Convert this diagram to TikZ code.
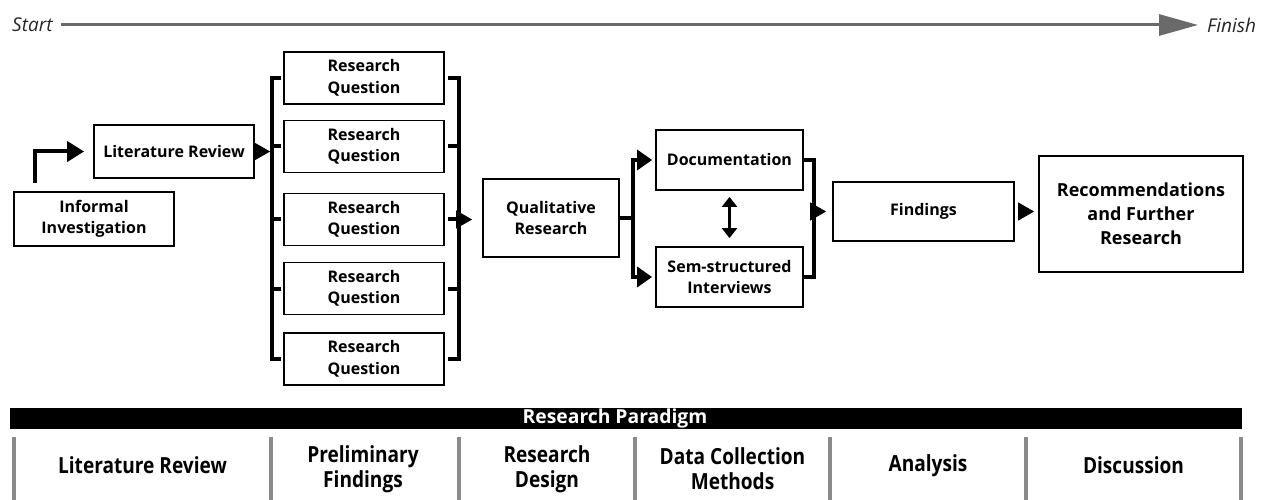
\documentclass[tikz,border=0pt]{standalone}
\usepackage{fontspec}
\setmainfont{Open Sans}
\newfontfamily\phasefamily{Open Sans}[FakeStretch=0.86]
\usetikzlibrary{arrows.meta}
\newcommand\stepfont{\bfseries\fontsize{16}{21.5}\selectfont}
\newcommand\bigstepfont{\bfseries\fontsize{18}{24}\selectfont}
\newcommand\phasefont{\phasefamily\bfseries\fontsize{22.2}{25}\selectfont}
\newcommand\timefont{\itshape\fontsize{19}{24}\selectfont}
\definecolor{timegray}{HTML}{6A6A6A}
\definecolor{divgray}{HTML}{8A8A8A}
\begin{document}
\begin{tikzpicture}[x=1pt,y=-1pt,
  stepbox/.style={draw, line width=1.8pt, font=\stepfont, align=center, inner sep=0pt},
  bracketline/.style={line width=4pt, line join=miter},
  forkline/.style={line width=3.5pt, line join=miter},
  headonly/.style={line width=1pt, -{Triangle[length=16pt,width=18pt]}},
  forkhead/.style={-{Triangle[length=15pt,width=20pt]}},
  timetext/.style={font=\timefont, text=black!85, inner sep=0pt},
  phase/.style={font=\phasefont, align=center},
  divider/.style={draw=divgray, line width=4pt}]
\useasboundingbox (0,0) rectangle (1262,500);

% time line
\node[timetext, anchor=west] (start) at (12,25) {Start};
\node[timetext, anchor=west] (finish) at (1207,25) {Finish};
\draw[draw=timegray, line width=3pt, -{Triangle[length=39pt,width=21pt]}, color=timegray]
  ([xshift=8pt]start.east) -- ([xshift=-9pt]finish.west);

% first steps
\node[stepbox, minimum width=160pt, minimum height=54pt] (inf) at (94,219) {Informal\\Investigation};
\node[stepbox, minimum width=160pt, minimum height=53pt] (lit) at (174,151.5) {Literature Review};
\coordinate (kick) at (35,183);
\draw[line width=4pt, line join=miter, -{Triangle[length=17pt,width=20pt]}]
  (kick) |- ([xshift=-9pt]lit.west);

% research questions
\foreach \n/\y in {1/78, 2/146.5, 3/219.5, 4/288.5, 5/359}
  \node[stepbox, minimum width=160pt, minimum height=52pt] (rq\n) at (364,\y) {Research\\Question};

% left bracket
\draw[bracketline] ([xshift=-2pt]rq1.west) -| ([xshift=-11pt]rq5.west) -- ([xshift=-2pt]rq5.west);
\foreach \n in {2,3,4}
  \draw[bracketline] ([xshift=-2pt]rq\n.west) -- ([xshift=-11pt]rq\n.west);
% right bracket
\draw[bracketline] ([xshift=3pt]rq1.east) -| ([xshift=14pt]rq5.east) -- ([xshift=3pt]rq5.east);
\foreach \n in {2,3,4}
  \draw[bracketline] ([xshift=3pt]rq\n.east) -- ([xshift=14pt]rq\n.east);

\draw[headonly] (lit.east) -- ([xshift=-13pt]rq2.west |- lit.east);

% qualitative research
\node[stepbox, minimum width=136pt, minimum height=78pt] (qual) at (551,218) {Qualitative\\Research};
\draw[headonly] ([xshift=15pt]rq3.east) -- ([xshift=-10pt]qual.west |- rq3.east);

\node[stepbox, minimum width=147pt, minimum height=60pt] (doc) at (729.5,160) {Documentation};
\node[stepbox, minimum width=147pt, minimum height=60pt] (sem) at (729.5,277) {Sem-structured\\Interviews};

\draw[forkline, forkhead] (qual.east) -- ++(13,0) |- ([xshift=-3pt]doc.west);
\draw[forkline, forkhead] (qual.east) -- ++(13,0) |- ([xshift=-3pt]sem.west);

\draw[line width=3pt, {Triangle[length=10pt,width=15pt]}-{Triangle[length=10pt,width=15pt]}]
  ([yshift=-6pt]doc.south) -- ([yshift=8pt]sem.north);

\draw[forkline] (doc.east) -| ([xshift=10pt]sem.east) -- (sem.east);

% findings and recommendations
\node[stepbox, minimum width=181pt, minimum height=59pt] (fin) at (923.5,211.5) {Findings};
\node[stepbox, font=\bigstepfont, minimum width=204pt, minimum height=116pt] (rec) at (1141,214)
  {Recommendations\\and Further\\Research};
\draw[headonly] ([xshift=10pt]doc.east |- fin.west) -- ([xshift=-6pt]fin.west);
\draw[headonly] ([xshift=5pt]fin.east) -- ([xshift=-4pt]rec.west |- fin.east);

% research paradigm band
\node[fill=black, minimum width=1232pt, minimum height=21pt, inner sep=0pt] (bar) at (626,418.5) {};
\node[font=\bfseries\fontsize{19.3}{24}\selectfont, text=white, inner sep=0pt] (paradigm) at (615,418.5) {Research Paradigm};

\foreach \x in {14,271,459,635,830,1026,1241}
  \draw[divider] (\x,437) -- (\x,500);

\node[phase] (p1) at (142.5,465.5) {Literature Review};
\node[phase] (p2) at (363,469) {Preliminary\\Findings};
\node[phase] (p3) at (547,469) {Research\\Design};
\node[phase] (p4) at (732.5,469) {Data Collection\\Methods};
\node[phase] (p5) at (928,465.5) {Analysis};
\node[phase] (p6) at (1133.5,465.5) {Discussion};
\end{tikzpicture}
\end{document}
